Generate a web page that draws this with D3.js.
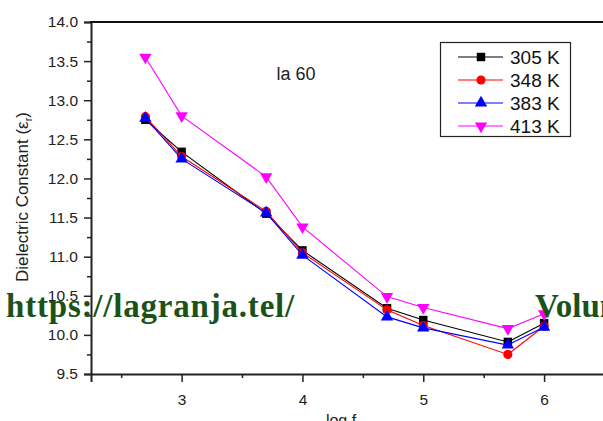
<!DOCTYPE html>
<html><head><meta charset="utf-8">
<script src="https://cdn.jsdelivr.net/npm/d3@7"></script>
<style>body{margin:0;background:#fff}svg{display:block}</style>
</head><body>
<svg id="c" width="603" height="421"></svg>
<script>
const logF = [2.7, 3, 3.7, 4, 4.7, 5, 5.7, 6];
const s305 = [12.75, 12.34, 11.55, 11.08, 10.34, 10.19, 9.91, 10.15];
const s348 = [12.79, 12.28, 11.58, 11.05, 10.32, 10.12, 9.75, 10.11];
const s383 = [12.77, 12.25, 11.56, 11.02, 10.23, 10.09, 9.87, 10.10];
const s413 = [13.55, 12.80, 12.02, 11.38, 10.49, 10.35, 10.08, 10.27];
const seriesNames = ["305 K", "348 K", "383 K", "413 K"];
const xTicks = [3, 4, 5, 6];
const yTicks = [9.5, 10.0, 10.5, 11.0, 11.5, 12.0, 12.5, 13.0, 13.5, 14.0];

const svg = d3.select("#c");
const x = d3.scaleLinear().domain([2.25, 6.5]).range([91, 604.5]);
const y = d3.scaleLinear().domain([9.5, 14]).range([374, 22]);
const font = "'Liberation Sans', Arial, sans-serif";

const series = [
  {name: seriesNames[0], vals: s305, color: "#000000", sym: d3.symbolSquare, size: 72, rot: 0},
  {name: seriesNames[1], vals: s348, color: "#ff0000", sym: d3.symbolCircle, size: 66, rot: 0},
  {name: seriesNames[2], vals: s383, color: "#0000ff", sym: d3.symbolTriangle, size: 66, rot: 0},
  {name: seriesNames[3], vals: s413, color: "#ff00ff", sym: d3.symbolTriangle, size: 66, rot: 180}
];

// axes
const yMinor = d3.range(9.75, 14, 0.5);
svg.append("g").attr("transform", "translate(91,0)")
  .call(d3.axisLeft(y).tickValues(yMinor).tickSize(4).tickFormat(""))
  .call(g => g.select(".domain").remove())
  .call(g => g.selectAll("line").attr("stroke", "#222").attr("stroke-width", 1.5));
const yAx = svg.append("g").attr("transform", "translate(91,0)")
  .call(d3.axisLeft(y).tickValues(yTicks).tickSize(7).tickPadding(6).tickFormat(d3.format(".1f")));
yAx.select(".domain").attr("stroke", "#222").attr("stroke-width", 2);
yAx.selectAll("line").attr("stroke", "#222").attr("stroke-width", 1.5);
yAx.selectAll("text").attr("font-family", font).attr("font-size", 15.5).attr("fill", "#222");

const xMinor = [2.5, 3.5, 4.5, 5.5];
svg.append("g").attr("transform", "translate(0,374)")
  .call(d3.axisBottom(x).tickValues(xMinor).tickSize(4).tickFormat(""))
  .call(g => g.select(".domain").remove())
  .call(g => g.selectAll("line").attr("stroke", "#222").attr("stroke-width", 1.5));
const xAx = svg.append("g").attr("transform", "translate(0,374)")
  .call(d3.axisBottom(x).tickValues(xTicks).tickSize(8).tickPadding(12).tickFormat(d3.format("d")));
xAx.select(".domain").attr("stroke", "#222").attr("stroke-width", 2);
xAx.selectAll("line").attr("stroke", "#222").attr("stroke-width", 1.5);
xAx.selectAll("text").attr("font-family", font).attr("font-size", 15.5).attr("fill", "#222");

// top border
svg.append("line").attr("x1", 90).attr("x2", 604.5).attr("y1", y(14)).attr("y2", y(14))
  .attr("stroke", "#111").attr("stroke-width", 2);

// axis titles
const yt = svg.append("text").attr("transform", "translate(28,197) rotate(-90)")
  .attr("text-anchor", "middle").attr("font-family", font).attr("font-size", 17).attr("fill", "#222");
yt.append("tspan").text("Dielectric Constant (ε");
yt.append("tspan").attr("font-size", 11).attr("dy", 4).text("r");
yt.append("tspan").attr("dy", -4).text(")");
svg.append("text").attr("x", 341).attr("y", 426).attr("text-anchor", "middle")
  .attr("font-family", font).attr("font-size", 16).attr("fill", "#222").text("log f");

svg.append("text").attr("x", 296).attr("y", 80).attr("text-anchor", "middle")
  .attr("font-family", font).attr("font-size", 18).attr("fill", "#222").text("la 60");

// series
const line = d3.line().x(d => x(d[0])).y(d => y(d[1]));
series.forEach(s => {
  const pts = logF.map((f, i) => [f, s.vals[i]]);
  svg.append("path").datum(pts).attr("d", line).attr("fill", "none")
    .attr("stroke", s.color).attr("stroke-width", 1.1);
  svg.append("g").selectAll("path").data(pts).join("path")
    .attr("transform", d => `translate(${x(d[0])},${y(d[1])}) rotate(${s.rot})`)
    .attr("d", d3.symbol().type(s.sym).size(s.size)).attr("fill", s.color);
});

// legend
svg.append("rect").attr("x", 440.5).attr("y", 42.5).attr("width", 130).attr("height", 94)
  .attr("fill", "#fff").attr("stroke", "#222").attr("stroke-width", 1.2);
series.forEach((s, i) => {
  const cy = 57 + i * 23;
  svg.append("line").attr("x1", 458).attr("x2", 503).attr("y1", cy).attr("y2", cy)
    .attr("stroke", s.color).attr("stroke-width", 1.1);
  svg.append("path").attr("transform", `translate(481,${cy}) rotate(${s.rot})`)
    .attr("d", d3.symbol().type(s.sym).size(s.size)).attr("fill", s.color);
  svg.append("text").attr("x", 510).attr("y", cy + 7).attr("font-family", font)
    .attr("font-size", 19).attr("fill", "#111").text(s.name);
});

// watermark
const wm = "'Liberation Serif', 'DejaVu Serif', serif";
svg.append("text").attr("x", 6).attr("y", 317).attr("font-family", wm).attr("font-weight", "bold")
  .attr("font-size", 33).attr("letter-spacing", 0.8).attr("fill", "#1a5218").text("https://lagranja.tel/");
svg.append("text").attr("x", 535).attr("y", 317).attr("font-family", wm).attr("font-weight", "bold")
  .attr("font-size", 33).attr("fill", "#1a5218").text("Volumen");
</script>
</body></html>
